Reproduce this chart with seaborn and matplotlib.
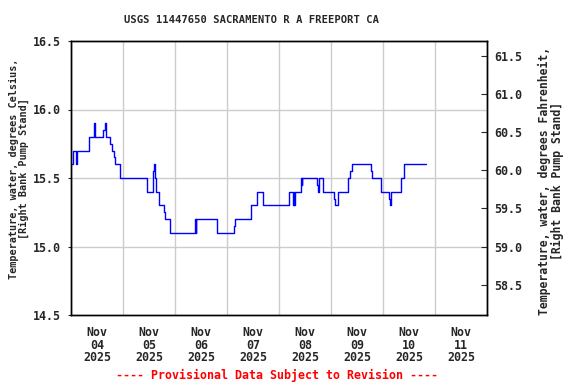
import pandas as pd
import matplotlib
matplotlib.use("Agg")
import matplotlib.pyplot as plt
import matplotlib.dates as mdates
import seaborn as sns

# change points of the 15-minute record (water temperature, deg C)
times = [
    "2025-11-04 00:15", "2025-11-04 01:00", "2025-11-04 02:15", "2025-11-04 02:45",
    "2025-11-04 08:30", "2025-11-04 10:45", "2025-11-04 11:15", "2025-11-04 14:45",
    "2025-11-04 15:30", "2025-11-04 16:00", "2025-11-04 18:00", "2025-11-04 18:45",
    "2025-11-04 19:45", "2025-11-04 20:30", "2025-11-04 22:30",
    "2025-11-05 11:15", "2025-11-05 14:00", "2025-11-05 14:15", "2025-11-05 14:45",
    "2025-11-05 15:00", "2025-11-05 16:45", "2025-11-05 19:00", "2025-11-05 19:30",
    "2025-11-05 21:45",
    "2025-11-06 09:15", "2025-11-06 09:30", "2025-11-06 09:45", "2025-11-06 19:30",
    "2025-11-07 03:00", "2025-11-07 03:30", "2025-11-07 11:00", "2025-11-07 13:45",
    "2025-11-07 16:45",
    "2025-11-08 04:45", "2025-11-08 06:30", "2025-11-08 06:45", "2025-11-08 07:00",
    "2025-11-08 07:30", "2025-11-08 10:00", "2025-11-08 10:15", "2025-11-08 10:30",
    "2025-11-08 10:45", "2025-11-08 17:45", "2025-11-08 18:00", "2025-11-08 18:15",
    "2025-11-08 20:30",
    "2025-11-09 01:30", "2025-11-09 01:45", "2025-11-09 03:00", "2025-11-09 08:00",
    "2025-11-09 08:45", "2025-11-09 09:30", "2025-11-09 18:30", "2025-11-09 19:00",
    "2025-11-09 23:15",
    "2025-11-10 02:45", "2025-11-10 03:15", "2025-11-10 03:45", "2025-11-10 08:15",
    "2025-11-10 08:30", "2025-11-10 09:30", "2025-11-10 19:45",
]
temp_c = [
    15.6, 15.7, 15.6, 15.7,
    15.8, 15.9, 15.8, 15.85,
    15.9, 15.8, 15.75, 15.7,
    15.65, 15.6, 15.5,
    15.4, 15.55, 15.6, 15.5,
    15.4, 15.3, 15.25, 15.2,
    15.1,
    15.2, 15.1, 15.2, 15.1,
    15.15, 15.2, 15.3, 15.4,
    15.3,
    15.4, 15.3, 15.4, 15.3,
    15.4, 15.45, 15.5, 15.45,
    15.5, 15.45, 15.4, 15.5,
    15.4,
    15.35, 15.3, 15.4, 15.5,
    15.55, 15.6, 15.55, 15.5,
    15.4,
    15.35, 15.3, 15.4, 15.45,
    15.5, 15.6, 15.6,
]
left_ticks = [14.5, 15.0, 15.5, 16.0, 16.5]
right_ticks = [58.5, 59.0, 59.5, 60.0, 60.5, 61.0, 61.5]

df = pd.DataFrame({"time": pd.to_datetime(times), "temp": temp_c})

sns.set_style("white")
mono = "DejaVu Sans Mono"
plt.rcParams["font.family"] = [mono]
plt.rcParams["font.weight"] = "bold"

fig = plt.figure(figsize=(5.76, 3.84), dpi=100)
ax = fig.add_axes([71 / 576, 1 - 315 / 384, 416 / 576, 274 / 384])

ax.set_ylim(14.5, 16.5)
ax.set_xlim(pd.Timestamp("2025-11-04"), pd.Timestamp("2025-11-12"))

# grid: horizontal at inner ticks, vertical at midnights
for v in [15.0, 15.5, 16.0]:
    ax.axhline(v, color="#cccccc", lw=1, zorder=1)
ax.xaxis.set_minor_locator(mdates.DayLocator())
ax.grid(which="minor", axis="x", color="#cccccc", lw=1, zorder=1)

sns.lineplot(data=df, x="time", y="temp", drawstyle="steps-post",
             color="#0000ff", lw=1.0, ax=ax, zorder=3)

ax.xaxis.set_major_locator(mdates.HourLocator(byhour=12))
ax.xaxis.set_major_formatter(mdates.DateFormatter("%b\n%d\n%Y"))
ax.tick_params(axis="x", which="major", length=0, pad=8, labelsize=8.4)
ax.tick_params(axis="x", which="minor", direction="in", length=3, color="black")
ax.set_yticks(left_ticks)
ax.set_yticklabels([f"{t:.1f}" for t in left_ticks])
ax.tick_params(axis="y", direction="out", length=2, pad=5, labelsize=8.4)
ax.set_xlabel("")
ax.set_ylabel("")
for s in ax.spines.values():
    s.set_color("black")
    s.set_linewidth(1)

ax2 = ax.twinx()
ax2.set_ylim(14.5 * 1.8 + 32, 16.5 * 1.8 + 32)
ax2.set_yticks(right_ticks)
ax2.set_yticklabels([f"{t:.1f}" for t in right_ticks])
ax2.tick_params(axis="y", direction="in", length=4, pad=5, labelsize=8.4)
ax2.grid(False)
for s in ax2.spines.values():
    s.set_color("black")
    s.set_linewidth(1)

fig.canvas.draw()
for lab in ax.get_xticklabels():
    lab.set_linespacing(0.95)

fig.text(252 / 576, 1 - 20 / 384, "USGS 11447650 SACRAMENTO R A FREEPORT CA",
         ha="center", va="center", fontsize=7.6, fontweight="bold")
fig.text(19 / 576, 1 - 169 / 384,
         "Temperature, water, degrees Celsius,\n[Right Bank Pump Stand]",
         ha="center", va="center", rotation=90, fontsize=7.3,
         fontweight="bold", linespacing=1.0)
fig.text(551 / 576, 1 - 181 / 384,
         "Temperature, water, degrees Fahrenheit,\n[Right Bank Pump Stand]",
         ha="center", va="center", rotation=90, fontsize=8.3,
         fontweight="bold", linespacing=1.0)
fig.text(277 / 576, 1 - 375 / 384,
         "---- Provisional Data Subject to Revision ----",
         ha="center", va="center", color="red", fontsize=8.4, fontweight="bold")

fig.savefig("out.png", dpi=100)
